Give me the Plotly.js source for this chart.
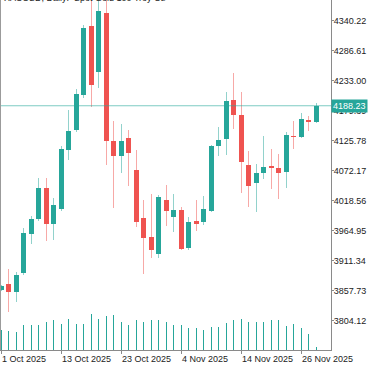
<!DOCTYPE html>
<html>
<head>
<meta charset="utf-8">
<script src="https://cdn.plot.ly/plotly-3.0.1.min.js"></script>
<style>
  html, body { margin: 0; padding: 0; background: #ffffff; }
  #chart { width: 375px; height: 366px; }
</style>
</head>
<body>
<div id="chart"></div>
<script>
const dates = [
  "2025-10-01","2025-10-02","2025-10-03","2025-10-06","2025-10-07","2025-10-08","2025-10-09","2025-10-10",
  "2025-10-13","2025-10-14","2025-10-15","2025-10-16","2025-10-17","2025-10-20","2025-10-21","2025-10-22",
  "2025-10-23","2025-10-24","2025-10-27","2025-10-28","2025-10-29","2025-10-30","2025-10-31","2025-11-03",
  "2025-11-04","2025-11-05","2025-11-06","2025-11-07","2025-11-10","2025-11-11","2025-11-12","2025-11-13",
  "2025-11-14","2025-11-17","2025-11-18","2025-11-19","2025-11-20","2025-11-21","2025-11-24","2025-11-25",
  "2025-11-26","2025-11-27","2025-11-28"
];
const openP = [
  3858.9,3869.1,3855.9,3888.8,3959.0,3985.3,4041.8,3976.4,
  4003.7,4109.7,4144.9,4207.5,4330.7,4249.1,4354.5,4125.8,
  4097.9,4130.1,4073.4,3987.1,3954.2,3922.8,4019.8,3990.0,
  4001.9,3934.0,3981.7,3981.0,3999.6,4116.3,4128.3,4198.5,
  4171.7,4082.4,4050.7,4068.6,4081.1,4076.5,4070.4,4134.7,
  4132.4,4162.8,4158.6
];
const highP = [
  3868.0,3897.0,3891.7,3970.3,3991.2,4059.6,4058.6,4022.9,
  4116.9,4180.1,4218.7,4332.5,4381.0,4380.0,4381.0,4161.5,
  4155.6,4144.9,4109.1,4019.8,4030.5,4028.7,4046.6,4030.5,
  4006.8,3990.0,4019.8,4027.5,4118.0,4149.7,4212.3,4246.2,
  4212.3,4107.4,4083.6,4134.2,4110.9,4102.0,4141.9,4160.4,
  4174.7,4169.9,4193.7
];
const lowP = [
  3857.0,3820.2,3838.1,3885.2,3941.7,3983.0,3947.1,3948.9,
  4000.7,4091.3,4141.9,4201.5,4186.5,4220.5,4082.4,4005.0,
  4067.5,4045.4,3972.1,3887.6,3916.7,3916.7,3973.3,3963.2,
  3930.5,3930.5,3965.0,3975.1,3998.0,4098.4,4100.2,4146.2,
  4032.9,4007.8,3998.9,4056.8,4039.5,4022.1,4041.8,4110.9,
  4130.0,4143.7,4157.0
];
const closeP = [
  3866.1,3855.9,3885.2,3961.4,3985.3,4041.8,3976.4,4011.4,
  4110.9,4143.1,4208.7,4326.6,4225.3,4357.6,4125.8,4099.0,
  4125.8,4104.3,3981.0,3952.4,3930.5,4024.6,4000.7,4001.9,
  3932.8,3980.0,3977.4,4003.7,4116.9,4127.6,4196.2,4171.7,
  4087.2,4045.4,4068.0,4078.8,4077.5,4067.5,4136.0,4131.8,
  4164.6,4159.7,4188.23
];
const volume = [
  200,190,180,247,250,250,277,297,
  260,310,260,263,357,307,343,350,
  280,253,297,280,297,303,280,253,
  253,220,220,200,230,227,270,297,
  307,280,280,277,300,297,240,260,
  223,157,30
];
const yTickVals = [3804.12,3857.73,3911.34,3964.95,4018.56,4072.17,4125.78,4179.39,4233.00,4286.61,4340.22];
const yTickText = ["3804.12","3857.73","3911.34","3964.95","4018.56","4072.17","4125.78","4179.39","4233.00","4286.61","4340.22"];
const xTickVals = ["2025-10-01","2025-10-13","2025-10-23","2025-11-04","2025-11-14","2025-11-26"];
const xTickText = ["1 Oct 2025","13 Oct 2025","23 Oct 2025","4 Nov 2025","14 Nov 2025","26 Nov 2025"];
const lastPrice = 4188.23;
const titleText = "XAUUSD, Daily:  Spot Gold 100 Troy Oz";

const UP = "#26a69a", DOWN = "#ef5350";
const UP_W = "rgba(38,166,154,0.5)", DOWN_W = "rgba(239,83,80,0.5)";

const isUp = closeP.map((c, i) => c >= openP[i]);
const bodyBase = closeP.map((c, i) => Math.min(c, openP[i]));
const bodyLen = closeP.map((c, i) => Math.max(Math.abs(c - openP[i]), 1.2));
const wickLen = highP.map((h, i) => h - lowP[i]);

const traces = [
  {
    type: "bar", x: dates, y: volume, yaxis: "y2",
    width: 0.134, marker: { color: UP, line: { width: 0 } },
    hoverinfo: "skip", showlegend: false
  },
  {
    type: "bar", x: dates, y: wickLen, base: lowP,
    width: 0.134, marker: { color: isUp.map(u => u ? UP_W : DOWN_W), line: { width: 0 } },
    hoverinfo: "skip", showlegend: false
  },
  {
    type: "bar", x: dates, y: bodyLen, base: bodyBase,
    width: 0.667, marker: { color: isUp.map(u => u ? UP : DOWN), line: { width: 0 } },
    hoverinfo: "skip", showlegend: false
  }
];

const font = { family: "Liberation Sans, Arial, sans-serif", size: 9, color: "#222222" };

const layout = {
  width: 375, height: 366,
  margin: { l: 0, r: 44, t: 0, b: 16, pad: 0 },
  paper_bgcolor: "#ffffff", plot_bgcolor: "#ffffff",
  barmode: "overlay", bargap: 0,
  showlegend: false,
  font: font,
  xaxis: {
    type: "category", categoryorder: "array", categoryarray: dates,
    range: [-0.1333, 44.0], automargin: false, fixedrange: true,
    showgrid: false, zeroline: false,
    showline: true, linecolor: "#8a8a8a", linewidth: 1,
    ticks: "outside", ticklen: 3, tickcolor: "#8a8a8a", tickwidth: 1,
    tickmode: "array", tickvals: xTickVals, ticktext: xTickText,
    ticklabelposition: "outside right", tickangle: 0,
    tickfont: font
  },
  yaxis: {
    side: "right", range: [3751.76, 4377.21], automargin: false, fixedrange: true,
    showgrid: false, zeroline: false,
    showline: true, linecolor: "#8a8a8a", linewidth: 1,
    ticks: "outside", ticklen: 2, tickcolor: "#8a8a8a", tickwidth: 1,
    tickmode: "array", tickvals: yTickVals, ticktext: yTickText,
    ticklabelstandoff: -2,
    tickfont: font
  },
  yaxis2: {
    overlaying: "y", range: [0, 3500], visible: false, fixedrange: true
  },
  shapes: [
    { type: "line", xref: "paper", yref: "y", x0: 0, x1: 1, y0: lastPrice, y1: lastPrice,
      line: { color: "rgba(38,166,154,0.6)", width: 1 } },
    { type: "line", xref: "paper", yref: "paper", x0: 0.0015, x1: 0.0015, y0: 0, y1: 1,
      line: { color: "#9a9a9a", width: 1 } }
  ],
  annotations: [
    { xref: "paper", yref: "y", x: 1, y: lastPrice, xanchor: "left", yanchor: "middle",
      text: lastPrice.toFixed(2), showarrow: false, bgcolor: UP, borderpad: 1,
      font: { family: "Liberation Sans, Arial, sans-serif", size: 9, color: "#ffffff" } },
    { xref: "paper", yref: "paper", x: 0, y: 1, xanchor: "left", yanchor: "bottom",
      xshift: 2, yshift: -5, text: titleText, showarrow: false,
      font: { family: "Liberation Sans, Arial, sans-serif", size: 9, color: "#222222" } }
  ]
};

Plotly.newPlot("chart", traces, layout, { displayModeBar: false, staticPlot: true });
</script>
</body>
</html>
